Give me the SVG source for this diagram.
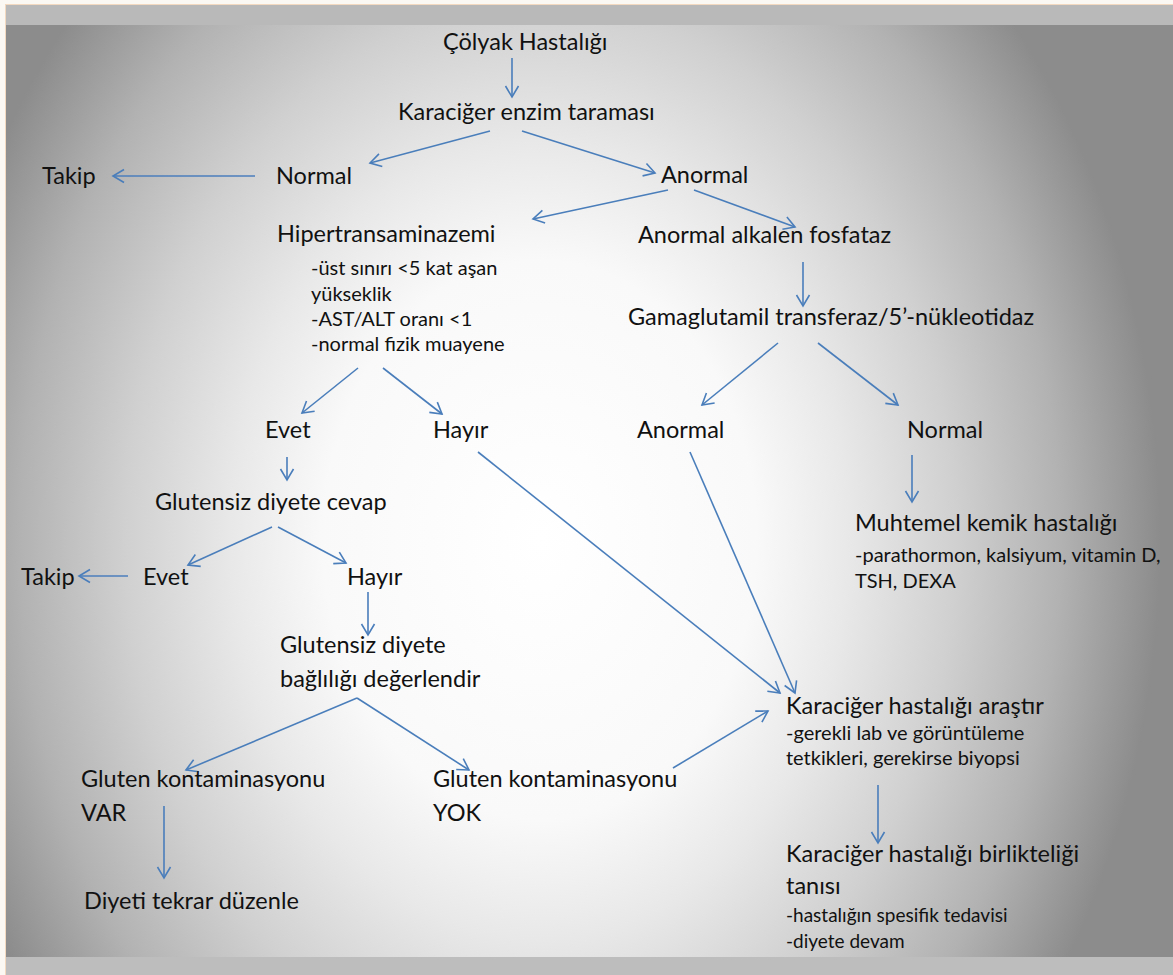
<svg xmlns="http://www.w3.org/2000/svg" width="1173" height="975" viewBox="0 0 1173 975">
<defs>
<radialGradient id="bg" gradientUnits="userSpaceOnUse" cx="540" cy="540" r="620" gradientTransform="translate(540 540) scale(1 1.29) translate(-540 -540)">
<stop offset="0" stop-color="#ffffff"/>
<stop offset="0.35" stop-color="#f9f9f9"/>
<stop offset="0.5" stop-color="#e8e8e8"/>
<stop offset="0.67" stop-color="#d0d0d0"/>
<stop offset="0.84" stop-color="#b2b2b2"/>
<stop offset="1" stop-color="#8c8c8c"/>
</radialGradient>
<marker id="ah" markerUnits="userSpaceOnUse" markerWidth="16" markerHeight="16" viewBox="-12 -8 14 16" refX="0" refY="0" orient="auto">
<path d="M-11,-6.5 L0,0 L-11,6.5" fill="none" stroke="#4a7ebb" stroke-width="1.6"/>
</marker>
<style>
text{font-family:Lato,"Open Sans","Liberation Sans",sans-serif;fill:#111111;}
.m{font-size:23.5px;}
.s{font-size:20px;}
.t{font-size:19px;}
.c line{stroke:#4a7ebb;stroke-width:1.6;marker-end:url(#ah);}
</style>
</defs>
<rect x="0" y="0" width="1173" height="975" fill="#fbf8f4"/>
<rect x="5.5" y="4.5" width="1168" height="971" fill="none" stroke="#f3d9c0" stroke-width="1"/>
<rect x="6" y="5" width="1167" height="20" fill="#b9b9b9"/>
<rect x="6" y="25" width="1167" height="932" fill="url(#bg)"/>
<rect x="6" y="957" width="1167" height="18" fill="#bdbdbd"/>

<g class="c" id="connectors">
<line x1="512" y1="58" x2="512" y2="97"/>
<line x1="490" y1="131" x2="370" y2="163"/>
<line x1="522" y1="131" x2="655" y2="173"/>
<line x1="255" y1="176" x2="113" y2="176"/>
<line x1="668" y1="190" x2="533" y2="219"/>
<line x1="694" y1="190" x2="795" y2="227"/>
<line x1="803" y1="262" x2="803" y2="306"/>
<line x1="358" y1="368" x2="302" y2="413"/>
<line x1="383" y1="368" x2="442" y2="414"/>
<line x1="778" y1="343" x2="702" y2="405"/>
<line x1="818" y1="343" x2="898" y2="405"/>
<line x1="287" y1="457" x2="287" y2="480"/>
<line x1="912" y1="455" x2="912" y2="502"/>
<line x1="272" y1="527" x2="188" y2="565"/>
<line x1="278" y1="527" x2="346" y2="563"/>
<line x1="128" y1="576" x2="79" y2="576"/>
<line x1="368" y1="592" x2="368" y2="635"/>
<line x1="357" y1="698" x2="186" y2="770"/>
<line x1="357" y1="698" x2="469" y2="770"/>
<line x1="478" y1="452" x2="780" y2="693"/>
<line x1="690" y1="452" x2="795" y2="693"/>
<line x1="673" y1="768" x2="768" y2="711"/>
<line x1="878" y1="785" x2="878" y2="843"/>
<line x1="164" y1="806" x2="164" y2="878"/>
</g>

<g id="n-colyak"><text class="m" x="443" y="50">Çölyak Hastalığı</text></g>
<g id="n-tarama"><text class="m" x="398" y="120">Karaciğer enzim taraması</text></g>
<g id="n-normal1"><text class="m" x="276" y="184">Normal</text></g>
<g id="n-takip1"><text class="m" x="42" y="184">Takip</text></g>
<g id="n-anormal1"><text class="m" x="661" y="183">Anormal</text></g>
<g id="n-hiper"><text class="m" x="277" y="242">Hipertransaminazemi</text>
<text class="s" x="311" y="275">-üst sınırı &lt;5 kat aşan</text>
<text class="s" x="311" y="301">yükseklik</text>
<text class="s" x="311" y="326">-AST/ALT oranı &lt;1</text>
<text class="s" x="311" y="351">-normal fizik muayene</text></g>
<g id="n-alp"><text class="m" x="638" y="243">Anormal alkalen fosfataz</text></g>
<g id="n-ggt"><text class="m" x="628" y="325">Gamaglutamil transferaz/5’-nükleotidaz</text></g>
<g id="n-evet1"><text class="m" x="265" y="438">Evet</text></g>
<g id="n-hayir1"><text class="m" x="433" y="438">Hayır</text></g>
<g id="n-anormal2"><text class="m" x="637" y="438">Anormal</text></g>
<g id="n-normal2"><text class="m" x="907" y="438">Normal</text></g>
<g id="n-kemik"><text class="m" x="855" y="531">Muhtemel kemik hastalığı</text>
<text class="s" x="855" y="562">-parathormon, kalsiyum, vitamin D,</text>
<text class="s" x="855" y="588">TSH, DEXA</text></g>
<g id="n-cevap"><text class="m" x="155" y="510">Glutensiz diyete cevap</text></g>
<g id="n-takip2"><text class="m" x="21" y="585">Takip</text></g>
<g id="n-evet2"><text class="m" x="143" y="585">Evet</text></g>
<g id="n-hayir2"><text class="m" x="347" y="585">Hayır</text></g>
<g id="n-baglilik"><text class="m" x="280" y="653">Glutensiz diyete</text>
<text class="m" x="280" y="687">bağlılığı değerlendir</text></g>
<g id="n-var"><text class="m" x="81" y="787">Gluten kontaminasyonu</text>
<text class="m" x="81" y="821">VAR</text></g>
<g id="n-yok"><text class="m" x="433" y="787">Gluten kontaminasyonu</text>
<text class="m" x="433" y="821">YOK</text></g>
<g id="n-diyet"><text class="m" x="84" y="909">Diyeti tekrar düzenle</text></g>
<g id="n-arastir"><text class="m" x="786" y="714">Karaciğer hastalığı araştır</text>
<text class="s" x="786" y="740">-gerekli lab ve görüntüleme</text>
<text class="s" x="786" y="765">tetkikleri, gerekirse biyopsi</text></g>
<g id="n-tani"><text class="m" x="786" y="862">Karaciğer hastalığı birlikteliği</text>
<text class="m" x="786" y="894">tanısı</text>
<text class="t" x="786" y="922">-hastalığın spesifik tedavisi</text>
<text class="t" x="786" y="948">-diyete devam</text></g>
</svg>
